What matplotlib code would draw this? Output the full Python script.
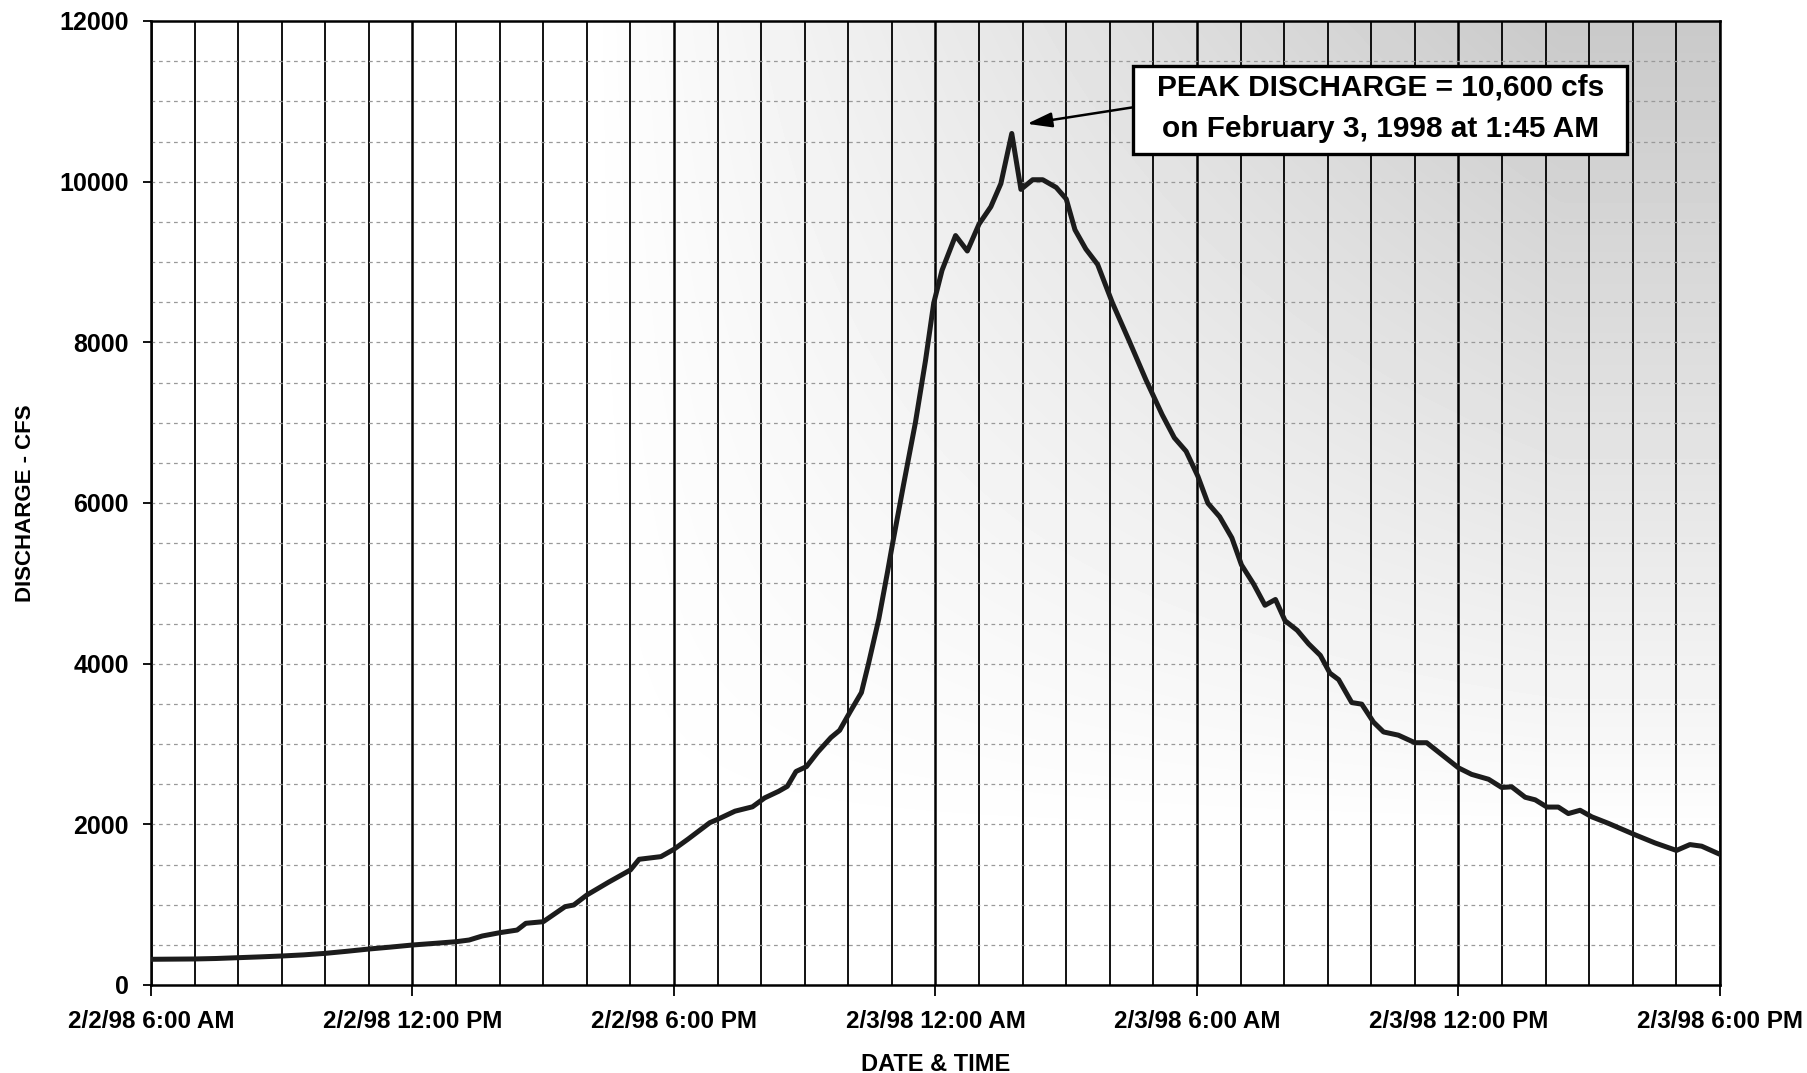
import numpy as np
import matplotlib
matplotlib.use('Agg')
import matplotlib.pyplot as plt
from matplotlib.patches import Rectangle

plt.rcParams['font.family'] = ['Liberation Sans', 'DejaVu Sans']
plt.rcParams['font.weight'] = 'bold'

# hours after 2/2/98 6:00 AM
hours = [0.0, 0.5, 1.0, 1.5, 2.0, 2.5, 3.0, 3.5, 4.0, 4.5, 5.0, 5.5, 6.0, 6.5,
         7.0, 7.3, 7.6, 8.0, 8.4, 8.6, 9.0, 9.5, 9.7, 10.0, 10.5, 11.0, 11.2,
         11.7, 12.0, 12.32, 12.82, 13.0, 13.4, 13.8, 14.08, 14.4, 14.6, 14.8,
         15.04, 15.3, 15.6, 15.8, 16.04, 16.3, 16.46, 16.7, 16.9, 17.0, 17.27,
         17.54, 17.77, 17.96, 18.15, 18.46, 18.73, 19.0, 19.27, 19.5, 19.75,
         19.96, 20.23, 20.46, 20.77, 21.0, 21.2, 21.45, 21.72, 22.06, 22.45,
         22.83, 23.2, 23.48, 23.75, 24.02, 24.25, 24.52, 24.8, 25.02, 25.3,
         25.56, 25.8, 26.02, 26.3, 26.56, 26.83, 27.05, 27.25, 27.55, 27.78,
         28.05, 28.28, 28.62, 29.0, 29.27, 29.62, 30.0, 30.3, 30.69, 30.99,
         31.22, 31.53, 31.76, 32.03, 32.29, 32.52, 32.79, 33.06, 33.44, 34.05,
         34.51, 35.0, 35.31, 35.58, 36.0]
discharge = [320, 322, 324, 330, 340, 350, 361, 375, 394, 420, 448, 472, 498, 518,
             539, 560, 610, 651, 684, 768, 788, 975, 996, 1120, 1280, 1432, 1565,
             1598, 1690, 1815, 2020, 2062, 2164, 2218, 2329, 2411, 2473, 2658,
             2719, 2900, 3080, 3170, 3400, 3640, 3993, 4560, 5144, 5450, 6237,
             7004, 7771, 8490, 8897, 9329, 9137, 9473, 9688, 9976, 10600,
             9904, 10024, 10024, 9928, 9784, 9401, 9161, 8969, 8490, 8010,
             7531, 7100, 6812, 6644, 6333, 5997, 5829, 5566, 5230, 4990,
             4727, 4799, 4535, 4415, 4247, 4103, 3882, 3801, 3516, 3496,
             3272, 3150, 3110, 3016, 3016, 2866, 2703, 2622, 2561, 2459,
             2467, 2337, 2305, 2215, 2215, 2134, 2175, 2093, 2012, 1870,
             1768, 1675, 1748, 1728, 1626]

tick_hours = [0, 6, 12, 18, 24, 30, 36]
tick_labels = ['2/2/98 6:00 AM', '2/2/98 12:00 PM', '2/2/98 6:00 PM',
               '2/3/98 12:00 AM', '2/3/98 6:00 AM', '2/3/98 12:00 PM',
               '2/3/98 6:00 PM']
y_ticks = [0, 2000, 4000, 6000, 8000, 10000, 12000]
annotation_text = 'PEAK DISCHARGE = 10,600 cfs\non February 3, 1998 at 1:45 AM'
arrow_tip = (20.1, 10720)

W, H = 1808, 1073
fig = plt.figure(figsize=(W / 100, H / 100), dpi=100)
fig.patch.set_facecolor('white')
ax = fig.add_axes([151 / W, 1 - 985 / H, (1720 - 151) / W, (985 - 21) / H])
ax.set_xlim(0, 36)
ax.set_ylim(0, 12000)

# scanned-paper grey shading, stronger toward top right
nx, ny = 400, 200
X, Y = np.meshgrid(np.linspace(0, 1, nx), np.linspace(0, 1, ny))
d = 0.21 * np.clip((X - 0.28) / 0.62, 0, 1) ** 0.9 * np.clip((Y - 0.15) / 0.85, 0, 1) ** 0.9
ax.imshow(1 - d, extent=[0, 36, 0, 12000], origin='lower', aspect='auto',
          cmap='gray', vmin=0, vmax=1, zorder=0, interpolation='bilinear')

for h in range(37):
    ax.axvline(h, color='black', lw=1.8 if h % 6 == 0 else 1.3, zorder=1)
for v in range(500, 12000, 500):
    ax.axhline(v, color='#999999', lw=0.9, ls=(0, (3, 3)), zorder=1)

ax.plot(hours, discharge, color='#1c1c1c', lw=3.6, zorder=3,
        solid_joinstyle='round', solid_capstyle='round')

# annotation box (axes-fraction placement)
bx0, bx1, by0, by1 = 0.626, 0.941, 0.862, 0.953
ax.add_patch(Rectangle((bx0, by0), bx1 - bx0, by1 - by0, transform=ax.transAxes,
                       fc='white', ec='black', lw=2.4, zorder=5))
ax.text((bx0 + bx1) / 2, (by0 + by1) / 2 + 0.002, annotation_text,
        transform=ax.transAxes, ha='center', va='center', fontsize=21.5,
        fontweight='bold', linespacing=1.6, zorder=6)
ax.annotate('', xy=arrow_tip, xycoords='data',
            xytext=(bx0, (by0 + by1) / 2 + 0.003), textcoords='axes fraction',
            arrowprops=dict(arrowstyle='-|>,head_length=1.5,head_width=0.45',
                            color='black', lw=1.8, shrinkA=0, shrinkB=0),
            zorder=6)

for s in ax.spines.values():
    s.set_color('black')
    s.set_linewidth(1.8)

ax.set_xticks(tick_hours)
ax.set_xticklabels(tick_labels)
ax.set_yticks(y_ticks)
ax.set_yticklabels([str(v) for v in y_ticks])
ax.tick_params(axis='x', length=8, width=1.3, pad=10, labelsize=17.5)
ax.tick_params(axis='y', length=6, width=1.3, pad=10, labelsize=18)
for lab in ax.get_xticklabels() + ax.get_yticklabels():
    lab.set_fontweight('bold')

ax.set_xlabel('DATE & TIME', fontsize=17, fontweight='bold')
ax.set_ylabel('DISCHARGE - CFS', fontsize=16, fontweight='bold')
ax.xaxis.set_label_coords(0.5, -0.071)
ax.yaxis.set_label_coords(-0.080, 0.5)
ax.yaxis.label.set_va('center')

fig.savefig('out.png', dpi=100)
